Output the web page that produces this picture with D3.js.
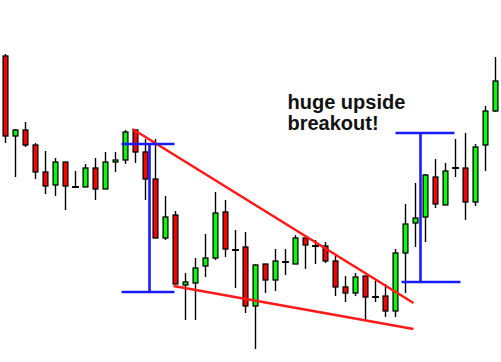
<!DOCTYPE html>
<html lang="en">
<head>
<meta charset="UTF-8">
<title>Falling wedge breakout</title>
<script src="https://d3js.org/d3.v7.min.js"></script>
<style>
  html, body { margin: 0; padding: 0; background: #fff; }
  svg { display: block; }
</style>
</head>
<body>
<svg width="501" height="362"></svg>
<script>
// candle data (open, high, low, close) in price units
const opens  = [344,264,270,255,228,215,238,213,213,232,211,238,240,270,248,221,162,185,115,117,134,142,188,150,153,94,136,120,138,136,162,154,154,139,113,107,124,103,104,89,147,177,183,223,195,232,232,198,255,289];
const highs  = [346,271,278,257,249,242,238,229,236,242,248,248,270,271,261,261,204,189,127,142,166,208,200,170,168,136,136,151,151,165,162,160,158,144,124,127,124,119,116,151,196,217,226,241,237,261,267,256,294,343];
const lows   = [257,223,253,221,206,204,190,212,213,200,211,228,236,237,200,162,160,116,80,80,123,140,143,112,87,51,107,109,125,136,131,136,137,104,98,104,80,98,83,83,107,153,158,192,195,223,180,194,229,288];
const closes = [264,270,255,228,214,238,214,213,232,211,238,240,268,248,221,162,183,116,118,132,142,187,151,150,94,135,120,139,138,162,155,154,139,113,107,123,103,103,89,147,176,182,225,196,229,232,198,253,289,319];

// trendlines and measuring bars: [startIndex, startPrice, endIndex, endPrice]
const wedgeTop    = [12.7, 271, 40.8, 97];
const wedgeBottom = [16.8, 114, 40.8, 71];
const leftBar  = { index: 14.4, top: 256, bottom: 108, from: 11.6, to: 16.9 };
const rightBar = { index: 41.5, top: 267, bottom: 118, from: 39.0, to: 44.9, fromLow: 39.6, toLow: 45.5 };
const label = ["huge upside", "breakout!"];

const width = 501, height = 362;
const svg = d3.select("svg");

const x = d3.scaleLinear().domain([0, opens.length - 1]).range([5.5, 495.5]);
const y = d3.scaleLinear().domain([38, 400]).range([height, 0]);

const candles = opens.map((o, i) => ({ i, o, h: highs[i], l: lows[i], c: closes[i] }));

const g = svg.append("g");

// wicks
g.selectAll(".wick")
  .data(candles)
  .enter().append("line")
  .attr("x1", d => x(d.i)).attr("x2", d => x(d.i))
  .attr("y1", d => y(d.h)).attr("y2", d => y(d.l))
  .attr("stroke", "#000").attr("stroke-width", 1.4);

// bodies
g.selectAll(".body")
  .data(candles)
  .enter().append("rect")
  .attr("x", d => x(d.i) - 2.4)
  .attr("width", 4.8)
  .attr("y", d => y(Math.max(d.o, d.c)))
  .attr("height", d => Math.max(0.01, y(Math.min(d.o, d.c)) - y(Math.max(d.o, d.c))))
  .attr("fill", d => d.c > d.o ? "#00ff00" : (d.c < d.o ? "#ff0000" : "#000"))
  .attr("stroke", "#000")
  .attr("stroke-width", d => d.c === d.o ? 2 : 1.3);

// wedge lines
[wedgeTop, wedgeBottom].forEach(l => {
  svg.append("line")
    .attr("x1", x(l[0])).attr("y1", y(l[1]))
    .attr("x2", x(l[2])).attr("y2", y(l[3]))
    .attr("stroke", "#ff1a1a").attr("stroke-width", 2.6);
});

// measuring bars
const blue = "#1a1aff";
function bar(b) {
  svg.append("line")
    .attr("x1", x(b.index)).attr("x2", x(b.index))
    .attr("y1", y(b.top)).attr("y2", y(b.bottom))
    .attr("stroke", blue).attr("stroke-width", 2.6);
  svg.append("line")
    .attr("x1", x(b.from)).attr("x2", x(b.to))
    .attr("y1", y(b.top)).attr("y2", y(b.top))
    .attr("stroke", blue).attr("stroke-width", 2.6);
  svg.append("line")
    .attr("x1", x(b.fromLow ?? b.from)).attr("x2", x(b.toLow ?? b.to))
    .attr("y1", y(b.bottom)).attr("y2", y(b.bottom))
    .attr("stroke", blue).attr("stroke-width", 2.6);
}
bar(leftBar);
bar(rightBar);

// annotation
svg.append("text")
  .attr("x", 287.5)
  .attr("y", 109)
  .style("font", "bold 20px 'Liberation Sans', Arial, sans-serif")
  .attr("fill", "#111")
  .selectAll("tspan")
  .data(label)
  .enter().append("tspan")
  .attr("x", 287.5)
  .attr("dy", (d, i) => i === 0 ? 0 : 20.5)
  .text(d => d);
</script>
</body>
</html>
